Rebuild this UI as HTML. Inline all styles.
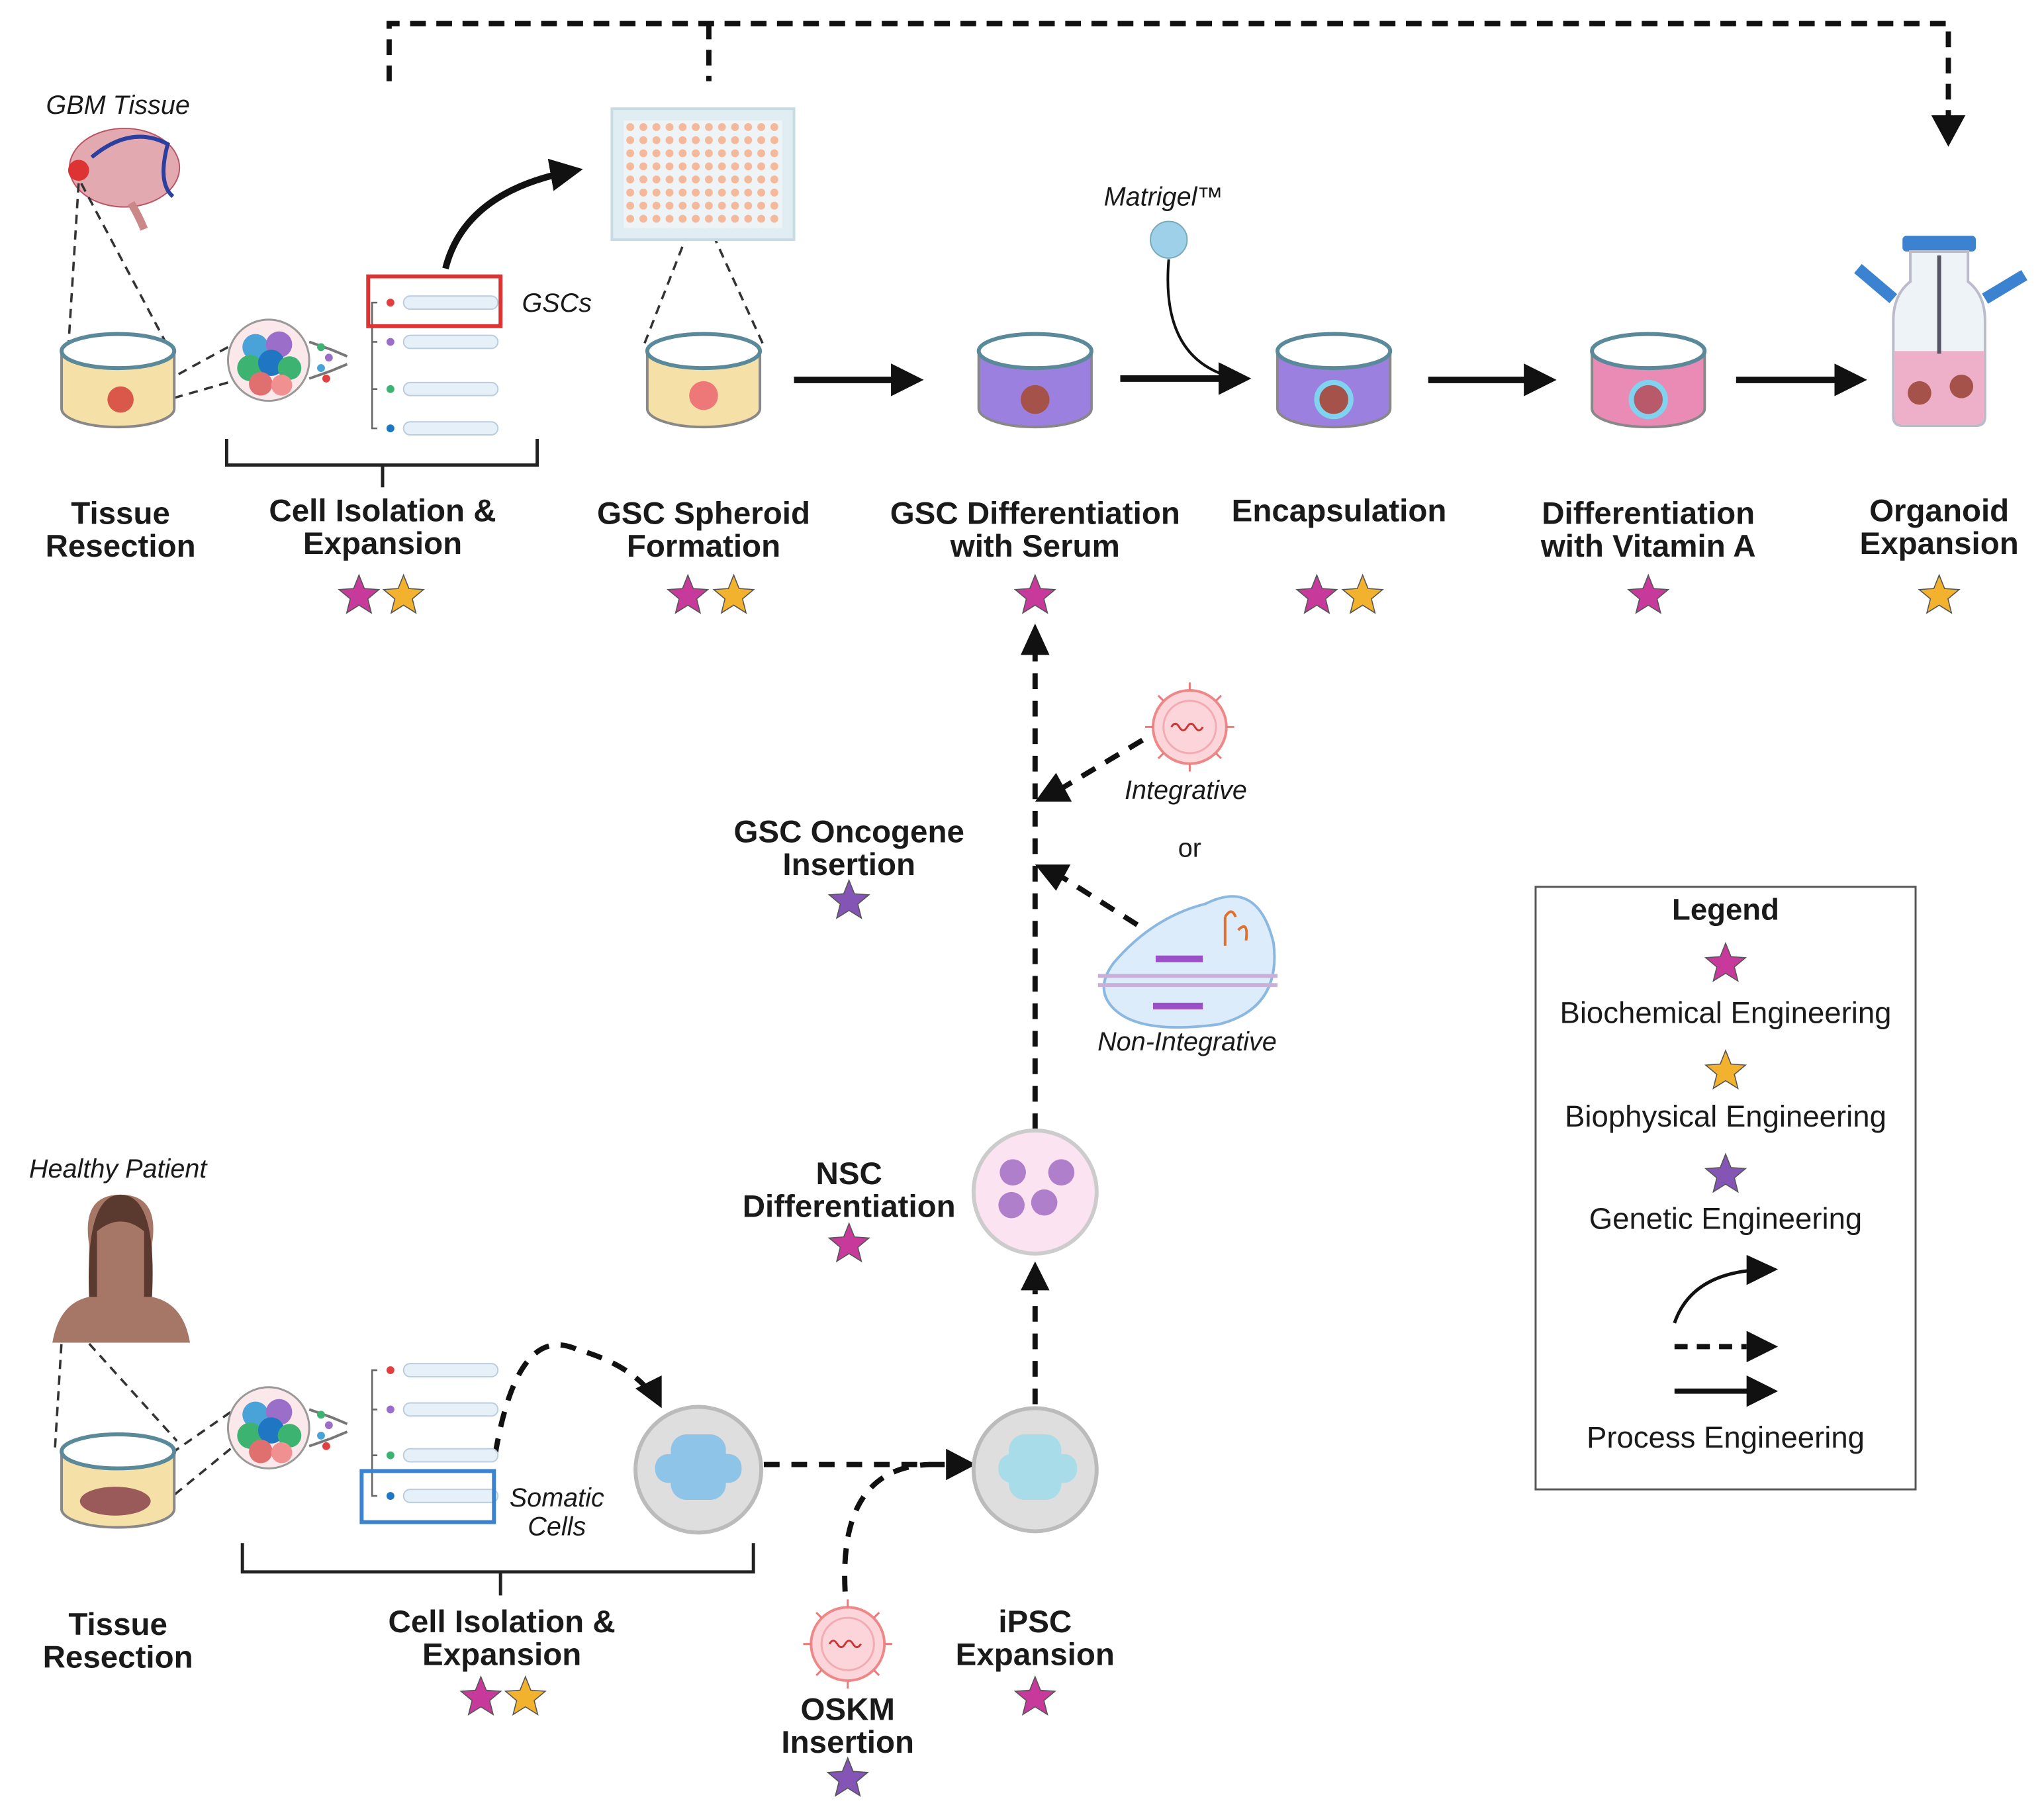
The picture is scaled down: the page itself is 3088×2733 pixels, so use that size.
<!DOCTYPE html>
<html><head><meta charset="utf-8"><style>
html,body{margin:0;padding:0;background:#fff}
svg{display:block}
text{font-family:"Liberation Sans",Arial,sans-serif;fill:#1a1a1a}
.b{font-weight:bold;font-size:24px;text-anchor:middle}
.i{font-style:italic;font-size:20px;text-anchor:middle}
.l{font-size:23px;text-anchor:middle}
</style></head><body>
<svg width="3088" height="2733" viewBox="0 0 1560 1381" preserveAspectRatio="none" xmlns="http://www.w3.org/2000/svg">
<defs>
<polygon id="st" points="0,-16 4.1,-5.7 15.2,-4.9 6.7,2.2 9.4,12.9 0,7 -9.4,12.9 -6.7,2.2 -15.2,-4.9 -4.1,-5.7" stroke="#555" stroke-width="0.8"/>
<marker id="ah" viewBox="0 0 10 10" refX="8" refY="5" markerWidth="5" markerHeight="5" orient="auto" markerUnits="strokeWidth"><path d="M0,0L10,5L0,10z" fill="#111"/></marker>
<pattern id="wells" x="476" y="92" width="10" height="10" patternUnits="userSpaceOnUse"><rect width="10" height="10" fill="#eef4f6"/><circle cx="5" cy="5" r="3" fill="#f4b89a"/></pattern>
<g id="tube"><circle cx="8" cy="0" r="3"/><rect x="18" y="-5" width="72" height="10" rx="5" fill="#e6f0f8" stroke="#bcd"/></g>
<g id="cells"><circle r="31" fill="#fbe8ea" stroke="#999" stroke-width="1.5"/>
<circle cx="-10" cy="-10" r="10" fill="#4aa3d8"/><circle cx="8" cy="-12" r="10" fill="#9b6fc9"/><circle cx="-14" cy="6" r="10" fill="#3cb371"/><circle cx="2" cy="2" r="10" fill="#1f77c4"/><circle cx="16" cy="6" r="9" fill="#3cb371"/><circle cx="-6" cy="18" r="9" fill="#e07070"/><circle cx="10" cy="19" r="8" fill="#f09090"/>
<path d="M31,-14 L48,-8 L60,-3 M31,14 L48,8 L60,3" stroke="#777" fill="none" stroke-width="2"/>
<circle cx="40" cy="-10" r="3" fill="#3cb371"/><circle cx="46" cy="-2" r="3" fill="#9b6fc9"/><circle cx="40" cy="6" r="3" fill="#4aa3d8"/><circle cx="44" cy="14" r="3" fill="#e04040"/></g>
</defs>

<g stroke="#111" stroke-width="4" fill="none" stroke-dasharray="12,8">
<path d="M297,62 V18 H1487 V90"/><path d="M541,18 V62"/></g>
<path d="M1474,88 L1500,88 L1487,112z" fill="#111"/>

<text class="i" x="90" y="87">GBM Tissue</text>
<ellipse cx="95" cy="128" rx="42" ry="30" fill="#e3a9b0" stroke="#b56" stroke-width="1"/>
<path d="M70,120 Q100,95 128,110 Q120,140 132,150" stroke="#2b3fa0" stroke-width="3" fill="none"/>
<path d="M100,155 q6,10 10,20" stroke="#c88" stroke-width="6" fill="none"/>
<circle cx="60" cy="130" r="8" fill="#d33"/>
<g stroke="#333" stroke-width="1.8" stroke-dasharray="7,5" fill="none">
<path d="M60,140 L52,268 M62,140 L130,268"/>
<path d="M174,265 L110,300 M174,292 L118,308 L110,300"/>
<path d="M492,262 L528,170 M582,262 L540,170"/>
<path d="M42,1105 L48,1008 M52,1008 L135,1100 M176,1078 L130,1110 M176,1106 L132,1142"/></g>

<path d="M47,268 V312 A43,14 0 0 0 133,312 V268" fill="#f5e0a8" stroke="#888" stroke-width="2"/><ellipse cx="90" cy="268" rx="43" ry="13" fill="#fff" stroke="#5a8a9a" stroke-width="3"/><circle cx="92" cy="305" r="10" fill="#d9584a"/>
<path d="M494,268 V312 A43,14 0 0 0 580,312 V268" fill="#f5e0a8" stroke="#888" stroke-width="2"/><ellipse cx="537" cy="268" rx="43" ry="13" fill="#fff" stroke="#5a8a9a" stroke-width="3"/><circle cx="537" cy="302" r="11" fill="#e77"/>
<path d="M747,268 V312 A43,14 0 0 0 833,312 V268" fill="#9b80e0" stroke="#888" stroke-width="2"/><ellipse cx="790" cy="268" rx="43" ry="13" fill="#fff" stroke="#5a8a9a" stroke-width="3"/><circle cx="790" cy="305" r="11" fill="#a5524a"/>
<path d="M975,268 V312 A43,14 0 0 0 1061,312 V268" fill="#9b80e0" stroke="#888" stroke-width="2"/><ellipse cx="1018" cy="268" rx="43" ry="13" fill="#fff" stroke="#5a8a9a" stroke-width="3"/><circle cx="1018" cy="305" r="13" fill="#a5524a" stroke="#7fd3ee" stroke-width="4"/>
<path d="M1215,268 V312 A43,14 0 0 0 1301,312 V268" fill="#e98bb5" stroke="#888" stroke-width="2"/><ellipse cx="1258" cy="268" rx="43" ry="13" fill="#fff" stroke="#5a8a9a" stroke-width="3"/><circle cx="1258" cy="305" r="13" fill="#b85a6a" stroke="#7fd3ee" stroke-width="4"/>
<path d="M47,1108 V1152 A43,14 0 0 0 133,1152 V1108" fill="#f5e0a8" stroke="#888" stroke-width="2"/><ellipse cx="90" cy="1108" rx="43" ry="13" fill="#fff" stroke="#5a8a9a" stroke-width="3"/><ellipse cx="88" cy="1146" rx="27" ry="11" fill="#9a5a5a"/>

<rect x="467" y="83" width="139" height="100" fill="#e0eef3" stroke="#c8dbe2" stroke-width="2"/>
<rect x="476" y="92" width="121" height="82" fill="url(#wells)"/>

<rect x="1452" y="180" width="56" height="12" rx="3" fill="#3b82d0"/>
<path d="M1458,192 V215 Q1445,225 1445,245 V318 Q1445,325 1452,325 H1508 Q1515,325 1515,318 V245 Q1515,225 1502,215 V192z" fill="#eef3f8" stroke="#bbc" stroke-width="2"/>
<path d="M1446,268 H1514 V318 Q1514,324 1508,324 H1452 Q1446,324 1446,318z" fill="#eeb0c8"/>
<circle cx="1465" cy="300" r="9" fill="#a5524a"/><circle cx="1497" cy="295" r="9" fill="#a5524a"/>
<line x1="1480" y1="195" x2="1480" y2="270" stroke="#556" stroke-width="3"/>
<path d="M1445,228 L1418,205" stroke="#3b82d0" stroke-width="9"/><path d="M1515,228 L1545,210" stroke="#3b82d0" stroke-width="9"/>

<use href="#cells" x="205" y="275"/>
<path d="M288,231 H284 V327 H288 M284,261 H288 M284,297 H288" stroke="#666" fill="none" stroke-width="1.3"/>
<use href="#tube" x="290" y="231" fill="#e04040"/><use href="#tube" x="290" y="261" fill="#9b6fc9"/><use href="#tube" x="290" y="297" fill="#3cb371"/><use href="#tube" x="290" y="327" fill="#1f77c4"/>
<rect x="281" y="211" width="101" height="38" fill="none" stroke="#d33" stroke-width="3"/>
<text class="i" x="425" y="238">GSCs</text>
<path d="M173,335 V355 H410 V335 M292,355 V372" stroke="#222" stroke-width="2.5" fill="none"/>
<path d="M340,205 Q355,145 440,130" stroke="#111" stroke-width="5" fill="none" marker-end="url(#ah)"/>

<g stroke="#111" stroke-width="5" fill="none" marker-end="url(#ah)">
<line x1="606" y1="290" x2="700" y2="290"/><line x1="855" y1="289" x2="950" y2="289"/><line x1="1090" y1="290" x2="1183" y2="290"/><line x1="1325" y1="290" x2="1420" y2="290"/></g>
<text class="i" x="888" y="157">Matrigel™</text>
<circle cx="892" cy="183" r="14" fill="#9fd0ea" stroke="#7ab" stroke-width="1"/>
<path d="M892,198 Q885,280 950,290" stroke="#111" stroke-width="2" fill="none" marker-end="url(#ah)"/>

<text class="b" x="92" y="400">Tissue</text><text class="b" x="92" y="425">Resection</text>
<text class="b" x="292" y="398">Cell Isolation &amp;</text><text class="b" x="292" y="423">Expansion</text>
<text class="b" x="537" y="400">GSC Spheroid</text><text class="b" x="537" y="425">Formation</text>
<text class="b" x="790" y="400">GSC Differentiation</text><text class="b" x="790" y="425">with Serum</text>
<text class="b" x="1022" y="398">Encapsulation</text>
<text class="b" x="1258" y="400">Differentiation</text><text class="b" x="1258" y="425">with Vitamin A</text>
<text class="b" x="1480" y="398">Organoid</text><text class="b" x="1480" y="423">Expansion</text>
<g fill="#c8399c"><use href="#st" x="274" y="455"/><use href="#st" x="525" y="455"/><use href="#st" x="790" y="455"/><use href="#st" x="1005" y="455"/><use href="#st" x="1258" y="455"/><use href="#st" x="648" y="950"/><use href="#st" x="367" y="1296"/><use href="#st" x="790" y="1296"/><use href="#st" x="1317" y="736"/></g>
<g fill="#f2b22e"><use href="#st" x="308" y="455"/><use href="#st" x="560" y="455"/><use href="#st" x="1040" y="455"/><use href="#st" x="1480" y="455"/><use href="#st" x="401" y="1296"/><use href="#st" x="1317" y="818"/></g>
<g fill="#8455b4"><use href="#st" x="648" y="688"/><use href="#st" x="647" y="1358"/><use href="#st" x="1317" y="897"/></g>

<g stroke="#111" stroke-width="4" fill="none" stroke-dasharray="12,9">
<path d="M790,862 V500"/><path d="M790,1072 V985"/>
<path d="M872,565 L810,602"/><path d="M868,706 L808,668"/>
<path d="M378,1110 Q395,1010 440,1030 Q475,1040 492,1058"/>
<path d="M583,1118 H725"/>
<path d="M645,1215 Q640,1120 710,1118"/></g>
<path d="M779,500 L801,500 L790,476z" fill="#111"/>
<path d="M779,985 L801,985 L790,963z" fill="#111"/>
<path d="M806,590 L818,612 L790,612z" fill="#111"/>
<path d="M790,660 L817,660 L806,680z" fill="#111"/>
<path d="M485,1060 L505,1050 L505,1075z" fill="#111"/>
<path d="M722,1106 L745,1118 L722,1130z" fill="#111"/>

<g id="vir"><circle cx="908" cy="555" r="28" fill="#fbd5da" stroke="#e88" stroke-width="2"/><circle cx="908" cy="555" r="20" fill="none" stroke="#f2aab3" stroke-width="1.5"/>
<path d="M894,555 q3,-5 6,0 t6,0 t6,0 t6,0" stroke="#c33" fill="none" stroke-width="1.5"/>
<g stroke="#e77" stroke-width="1.5"><line x1="908" y1="521" x2="908" y2="527"/><line x1="908" y1="583" x2="908" y2="589"/><line x1="874" y1="555" x2="880" y2="555"/><line x1="936" y1="555" x2="942" y2="555"/><line x1="884" y1="531" x2="888" y2="535"/><line x1="932" y1="531" x2="928" y2="535"/><line x1="884" y1="579" x2="888" y2="575"/><line x1="932" y1="579" x2="928" y2="575"/></g></g>
<use href="#vir" x="-261" y="700"/>
<text class="i" x="905" y="610">Integrative</text>
<text class="l" x="908" y="654" style="font-size:20px">or</text>
<path d="M850,735 Q880,700 920,690 Q960,670 972,720 Q978,770 930,782 Q870,790 850,770 Q835,755 850,735z" fill="#dcecfa" stroke="#8bb8e0" stroke-width="2"/>
<path d="M838,745 H975 M838,752 H975" stroke="#c9b0d8" stroke-width="3"/>
<path d="M882,732 H918 M880,768 H918" stroke="#9b50c8" stroke-width="5"/>
<path d="M935,700 V722 M935,700 q5,-8 8,0 M945,710 q8,-8 6,8" stroke="#e07030" stroke-width="2" fill="none"/>
<text class="i" x="906" y="802">Non-Integrative</text>
<text class="b" x="648" y="643">GSC Oncogene</text><text class="b" x="648" y="668">Insertion</text>

<circle cx="790" cy="910" r="47" fill="#fbe3f1" stroke="#ccc" stroke-width="3"/>
<circle cx="773" cy="895" r="10" fill="#b07fcb"/><circle cx="810" cy="895" r="10" fill="#b07fcb"/><circle cx="772" cy="920" r="10" fill="#b07fcb"/><circle cx="797" cy="918" r="10" fill="#b07fcb"/>
<text class="b" x="648" y="904">NSC</text><text class="b" x="648" y="929">Differentiation</text>

<text class="i" x="90" y="899">Healthy Patient</text>
<path d="M40,1025 Q45,995 68,990 L68,950 Q62,912 92,912 Q122,912 116,950 L116,990 Q140,995 145,1025z" fill="#a67766"/>
<path d="M68,990 Q65,912 92,912 Q120,912 116,990 L110,990 L110,940 Q92,925 74,940 L74,990z" fill="#5a3a2e"/>
<use href="#cells" x="205" y="1090"/>
<path d="M288,1046 H284 V1142 H288 M284,1076 H288 M284,1111 H288" stroke="#666" fill="none" stroke-width="1.3"/>
<use href="#tube" x="290" y="1046" fill="#e04040"/><use href="#tube" x="290" y="1076" fill="#9b6fc9"/><use href="#tube" x="290" y="1111" fill="#3cb371"/><use href="#tube" x="290" y="1142" fill="#1f77c4"/>
<rect x="276" y="1123" width="101" height="39" fill="none" stroke="#3b82d0" stroke-width="3"/>
<text class="i" x="425" y="1150">Somatic</text><text class="i" x="425" y="1172">Cells</text>
<circle cx="533" cy="1122" r="48" fill="#dedede" stroke="#bbb" stroke-width="3"/>
<circle cx="790" cy="1122" r="47" fill="#dedede" stroke="#bbb" stroke-width="3"/>
<g fill="#8ec4e8"><rect x="512" y="1095" width="42" height="50" rx="12"/><rect x="500" y="1110" width="66" height="22" rx="10"/></g>
<g fill="#a8dce8"><rect x="770" y="1095" width="40" height="50" rx="12"/><rect x="762" y="1110" width="60" height="22" rx="10"/></g>
<path d="M185,1178 V1200 H575 V1178 M382,1200 V1218" stroke="#222" stroke-width="2.5" fill="none"/>
<text class="b" x="90" y="1248">Tissue</text><text class="b" x="90" y="1273">Resection</text>
<text class="b" x="383" y="1246">Cell Isolation &amp;</text><text class="b" x="383" y="1271">Expansion</text>
<text class="b" x="647" y="1313">OSKM</text><text class="b" x="647" y="1338">Insertion</text>
<text class="b" x="790" y="1246">iPSC</text><text class="b" x="790" y="1271">Expansion</text>

<rect x="1172" y="677" width="290" height="460" fill="none" stroke="#555" stroke-width="1.5"/>
<text class="b" x="1317" y="702" style="font-size:23px">Legend</text>
<text class="l" x="1317" y="781">Biochemical Engineering</text>
<text class="l" x="1317" y="860">Biophysical Engineering</text>
<text class="l" x="1317" y="938">Genetic Engineering</text>
<text class="l" x="1317" y="1105">Process Engineering</text>
<path d="M1278,1010 Q1290,975 1335,970" stroke="#111" stroke-width="2.5" fill="none"/>
<path d="M1333,958 L1357,969 L1333,981z" fill="#111"/>
<path d="M1278,1028 H1333" stroke="#111" stroke-width="4" stroke-dasharray="10,7"/>
<path d="M1333,1016 L1357,1028 L1333,1040z" fill="#111"/>
<path d="M1278,1062 H1335" stroke="#111" stroke-width="4"/>
<path d="M1333,1050 L1357,1062 L1333,1074z" fill="#111"/>
</svg>
</body></html>
